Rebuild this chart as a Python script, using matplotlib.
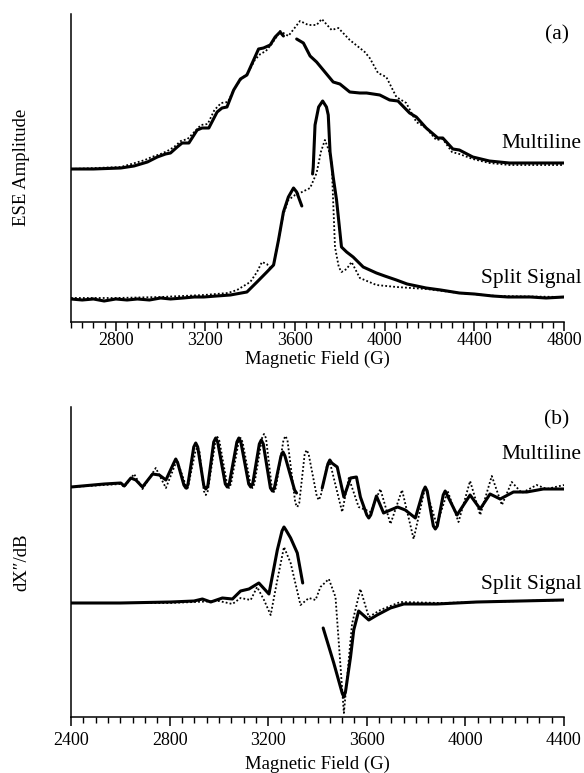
import matplotlib
matplotlib.use('Agg')
import matplotlib.pyplot as plt
from matplotlib.ticker import MultipleLocator

plt.rcParams['font.family'] = ['Liberation Serif', 'DejaVu Serif']

# ---------------- Panel (a): ESE amplitude ----------------
# Multiline, solid (two pieces)
ml_a_solid_G1 = [2600, 2700, 2822, 2881, 2941, 2985, 3022, 3044, 3074, 3096, 3126, 3163, 3185, 3215,
                 3252, 3274, 3296, 3326, 3356, 3385, 3415, 3437, 3459, 3489, 3511, 3533, 3548]
ml_a_solid_A1 = [153, 153, 154, 156, 160, 165, 168, 169, 175, 179, 179, 192, 194, 194,
                 210, 214, 215, 232, 243, 247, 262, 273, 274, 277, 285, 290, 286]
ml_a_solid_G2 = [3607, 3637, 3667, 3696, 3733, 3770, 3800, 3844, 3889, 3919, 3978, 4022, 4059, 4111,
                 4141, 4185, 4237, 4259, 4304, 4333, 4393, 4467, 4556, 4650, 4800]
ml_a_solid_A2 = [283, 279, 266, 260, 250, 240, 238, 230, 229, 229, 227, 222, 221, 209,
                 205, 194, 184, 184, 173, 172, 165, 161, 159, 159, 159]
# Multiline, dotted
ml_a_dot_G = [2600, 2822, 2870, 2900, 2930, 2960, 3000, 3030, 3060, 3090, 3120, 3150, 3180, 3210,
              3240, 3270, 3300, 3330, 3360, 3390, 3420, 3445, 3470, 3495, 3520, 3533, 3570, 3622,
              3659, 3696, 3719, 3763, 3793, 3844, 3911, 3933, 3970, 4007, 4052, 4096, 4141, 4185,
              4230, 4259, 4300, 4333, 4393, 4467, 4556, 4800]
ml_a_dot_A = [153, 155, 158, 160, 162, 165, 168, 171, 175, 181, 183, 190, 197, 198,
              212, 219, 220, 234, 243, 249, 262, 268, 271, 278, 286, 291, 286, 301,
              297, 297, 303, 292, 294, 282, 270, 264, 249, 245, 225, 219, 200, 194,
              182, 183, 170, 168, 163, 159, 157, 157]
# Split signal, solid (two pieces)
ss_a_solid_G1 = [2600, 2650, 2700, 2748, 2800, 2850, 2896, 2950, 3000, 3044, 3100, 3150, 3193, 3250,
                 3311, 3385, 3430, 3474, 3504, 3526, 3548, 3570, 3593, 3607, 3630]
ss_a_solid_A1 = [23, 22, 23, 21, 23, 22, 23, 22, 24, 23, 24, 25, 25, 26,
                 27, 30, 40, 50, 57, 82, 110, 125, 134, 130, 116]
ss_a_solid_G2 = [3678, 3681, 3689, 3705, 3723, 3740, 3748, 3756, 3770, 3785, 3807, 3830, 3859, 3904,
                 3963, 4000, 4052, 4100, 4185, 4250, 4333, 4400, 4481, 4550, 4650, 4720, 4800]
ss_a_solid_A2 = [148, 155, 197, 215, 221, 215, 207, 170, 145, 122, 75, 70, 65, 55,
                 49, 46, 42, 38, 34, 32, 29, 28, 26, 25, 25, 24, 25]
# Split signal, dotted
ss_a_dot_G = [2600, 2800, 3000, 3193, 3300, 3341, 3400, 3430, 3452, 3474, 3489, 3504, 3526, 3548,
              3570, 3600, 3622, 3667, 3696, 3715, 3733, 3750, 3763, 3778, 3795, 3807, 3830, 3852,
              3889, 3963, 4052, 4185, 4333, 4500, 4800]
ss_a_dot_A = [24, 24, 25, 27, 29, 32, 40, 50, 60, 58, 54, 57, 82, 108,
              122, 127, 129, 134, 149, 170, 182, 172, 160, 75, 55, 50, 53, 60,
              44, 37, 35, 33, 29, 26, 25]

# ---------------- Panel (b): derivative ----------------
ml_b_solid_G1 = [2400, 2535, 2602, 2616, 2643, 2663, 2690, 2731, 2758, 2785,
                 2817, 2825, 2833, 2858, 2866, 2874, 2898, 2906, 2914, 2939, 2947, 2955,
                 2979, 2987, 2995, 3026, 3034, 3042, 3073, 3081, 3089, 3121, 3129, 3137,
                 3164, 3172, 3180, 3209, 3217, 3225, 3252, 3260, 3268, 3307, 3315]
ml_b_solid_A1 = [230, 233, 234, 231, 239, 237, 230, 243, 242, 237,
                 254, 258, 254, 232, 229, 232, 270, 274, 270, 231, 228, 231,
                 275, 279, 275, 233, 230, 233, 275, 279, 275, 233, 230, 233,
                 273, 277, 273, 229, 226, 229, 261, 265, 261, 227, 224]
ml_b_solid_G2 = [3419, 3442, 3450, 3458, 3480, 3507, 3534, 3558, 3574, 3600, 3608, 3616, 3639, 3668,
                 3696, 3725, 3756, 3797, 3829, 3837, 3845, 3870, 3878, 3886, 3910, 3918, 3926, 3966,
                 4019, 4060, 4100, 4141, 4195, 4249, 4316, 4400]
ml_b_solid_A2 = [229, 253, 257, 254, 250, 220, 239, 240, 220, 202, 199, 202, 221, 204,
                 207, 210, 207, 199, 226, 230, 226, 191, 188, 191, 222, 226, 222, 202,
                 222, 208, 223, 218, 225, 225, 228, 228]
ml_b_dot_G = [2400, 2602, 2616, 2656, 2690, 2744, 2785, 2830, 2872,
              2905, 2913, 2921, 2939, 2947, 2955, 2986, 2994, 3002, 3033, 3041, 3049,
              3080, 3088, 3096, 3128, 3136, 3144, 3175, 3183, 3191, 3215, 3223, 3231,
              3262, 3270, 3278, 3310, 3318, 3326, 3348, 3356, 3364, 3397, 3405, 3413,
              3438, 3446, 3454, 3500, 3527, 3567, 3615, 3655, 3696, 3743, 3790, 3837,
              3884, 3928, 3972, 4019, 4060, 4107, 4148, 4188, 4229, 4289, 4330, 4400]
ml_b_dot_A = [230, 233, 230, 243, 228, 249, 229, 257, 227,
              266, 270, 266, 226, 222, 226, 276, 280, 276, 233, 229, 233,
              275, 279, 275, 233, 229, 233, 279, 283, 279, 229, 225, 229,
              277, 281, 277, 214, 210, 214, 263, 267, 263, 221, 217, 221,
              251, 255, 251, 205, 239, 210, 205, 228, 193, 227, 178, 230,
              192, 226, 195, 236, 202, 241, 212, 235, 224, 232, 228, 232]
ss_b_solid_G1 = [2400, 2600, 2805, 2899, 2933, 2967, 3014, 3055, 3088, 3122, 3162, 3203, 3237, 3256,
                 3264, 3272, 3291, 3318, 3340]
ss_b_solid_A1 = [114, 114, 115, 116, 118, 115, 119, 118, 126, 128, 134, 123, 167, 186,
                 190, 187, 179, 164, 134]
ss_b_solid_G2 = [3423, 3466, 3500, 3507, 3514, 3534, 3547, 3567, 3608, 3642, 3696, 3750, 3884, 4046,
                 4400]
ss_b_solid_A2 = [89, 54, 24, 20, 26, 60, 87, 106, 97, 102, 109, 113, 113, 115, 117]
ss_b_dot_G = [2400, 2800, 3000, 3055, 3088, 3129, 3155, 3183, 3210, 3237, 3264, 3291, 3331, 3365,
              3392, 3412, 3446, 3473, 3507, 3540, 3574, 3608, 3655, 3736, 3900, 4400]
ss_b_dot_A = [114, 114, 116, 113, 119, 117, 130, 117, 102, 137, 170, 154, 112, 119,
              117, 130, 138, 120, 4, 93, 128, 100, 107, 115, 114, 117]

xticks_a = [2800, 3200, 3600, 4000, 4400, 4800]
xticks_b = [2400, 2800, 3200, 3600, 4000, 4400]

# ---------------- Drawing ----------------
W, H = 584, 773
fig = plt.figure(figsize=(W / 100, H / 100), dpi=100)


def rect(l, t, r, b):
    return [l / W, 1 - b / H, (r - l) / W, (b - t) / H]


axa = fig.add_axes(rect(71, 14, 564, 322))
axb = fig.add_axes(rect(71, 407, 564, 717))

solid_kw = dict(color='black', lw=2.2, solid_joinstyle='round', solid_capstyle='round')
dot_kw = dict(color='black', lw=1.3, linestyle=(0, (1.0, 1.2)))

axa.plot(ml_a_dot_G, ml_a_dot_A, **dot_kw)
axa.plot(ss_a_dot_G, ss_a_dot_A, **dot_kw)
axa.plot(ml_a_solid_G1, ml_a_solid_A1, **solid_kw)
axa.plot(ml_a_solid_G2, ml_a_solid_A2, **solid_kw)
axa.plot(ss_a_solid_G1, ss_a_solid_A1, **solid_kw)
axa.plot(ss_a_solid_G2, ss_a_solid_A2, **solid_kw)

axb.plot(ml_b_dot_G, ml_b_dot_A, **dot_kw)
axb.plot(ss_b_dot_G, ss_b_dot_A, **dot_kw)
axb.plot(ml_b_solid_G1, ml_b_solid_A1, **solid_kw)
axb.plot(ml_b_solid_G2, ml_b_solid_A2, **solid_kw)
axb.plot(ss_b_solid_G1, ss_b_solid_A1, **solid_kw)
axb.plot(ss_b_solid_G2, ss_b_solid_A2, **solid_kw)

axa.set_xlim(2600, 4800)
axa.set_ylim(0, 308)
axa.set_xticks(xticks_a)
axb.set_xlim(2400, 4400)
axb.set_ylim(0, 310)
axb.set_xticks(xticks_b)

for ax, pad in ((axa, 1.0), (axb, 4.0)):
    ax.spines['top'].set_visible(False)
    ax.spines['right'].set_visible(False)
    ax.spines['left'].set_linewidth(1.1)
    ax.spines['bottom'].set_linewidth(1.1)
    ax.set_yticks([])
    ax.xaxis.set_minor_locator(MultipleLocator(50))
    ax.tick_params(axis='x', which='major', direction='out', length=6.5, width=1.1,
                   labelsize=13, pad=pad)
    ax.tick_params(axis='x', which='minor', direction='out', length=4.5, width=1.0)

TS = 13.5
AS = 15.5
fig.text(317 / W, 1 - 359 / H, 'Magnetic Field (G)', ha='center', va='center', fontsize=TS)
fig.text(317 / W, 1 - 764 / H, 'Magnetic Field (G)', ha='center', va='center', fontsize=TS)
fig.text(22 / W, 1 - 167 / H, 'ESE Amplitude', ha='center', va='center', rotation=90, fontsize=TS)
fig.text(22 / W, 1 - 562 / H, 'dX\u2033/dB', ha='center', va='center', rotation=90, fontsize=TS)

fig.text(569 / W, 1 - 35 / H, '(a)', ha='right', va='center', fontsize=AS)
fig.text(581 / W, 1 - 144 / H, 'Multiline', ha='right', va='center', fontsize=AS)
fig.text(582 / W, 1 - 279 / H, 'Split Signal', ha='right', va='center', fontsize=AS)
fig.text(569 / W, 1 - 420 / H, '(b)', ha='right', va='center', fontsize=AS)
fig.text(581 / W, 1 - 455 / H, 'Multiline', ha='right', va='center', fontsize=AS)
fig.text(582 / W, 1 - 584 / H, 'Split Signal', ha='right', va='center', fontsize=AS)

fig.savefig('out.png', dpi=100)
